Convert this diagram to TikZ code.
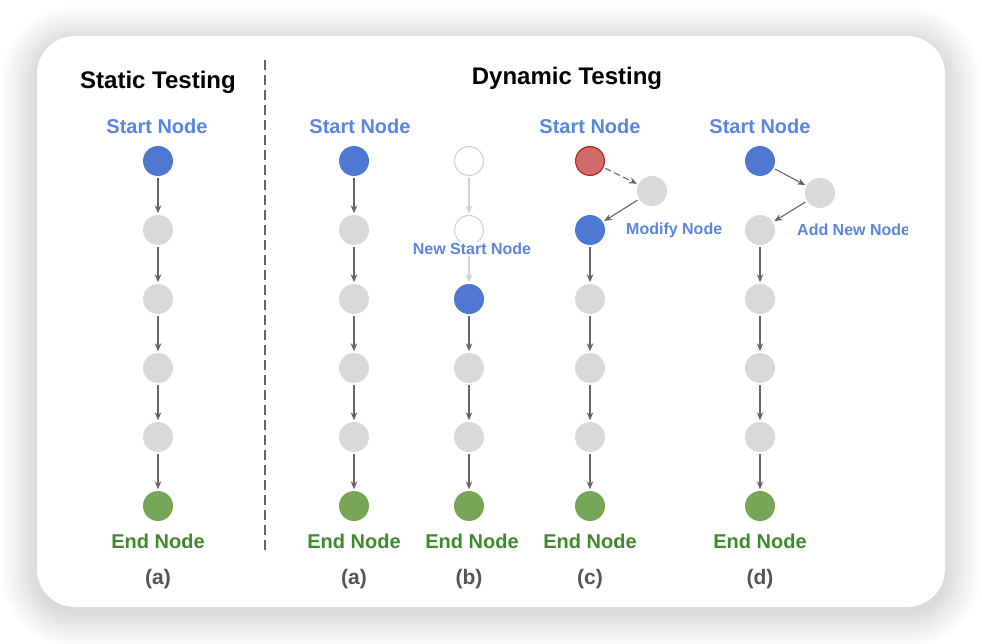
\documentclass[tikz,border=0pt]{standalone}
\usepackage{fontspec}
\setmainfont{Liberation Sans}
\usetikzlibrary{arrows.meta}
\definecolor{nblue}{HTML}{4F78D2}
\definecolor{ngray}{HTML}{D9D9D9}
\definecolor{ngreen}{HTML}{77A756}
\definecolor{nred}{HTML}{CF6B69}
\definecolor{nredline}{HTML}{B8281E}
\definecolor{tblue}{HTML}{5B86DF}
\definecolor{tgreen}{HTML}{3F8A2F}
\definecolor{tgray}{HTML}{555555}
\definecolor{agray}{HTML}{666666}
\definecolor{lgray}{HTML}{D2D2D2}
\begin{document}
\begin{tikzpicture}[x=1pt,y=-1pt,
  dot/.style={circle,minimum size=30pt,inner sep=0pt},
  graynode/.style={dot,fill=ngray},
  bluenode/.style={dot,fill=nblue},
  greennode/.style={dot,fill=ngreen},
  rednode/.style={dot,fill=nred,draw=nredline,line width=1.2pt,minimum size=28.8pt},
  ghostnode/.style={dot,draw=lgray,line width=1.1pt,fill=white,minimum size=28.9pt},
  arr/.style={draw=agray,line width=1.1pt,-{Stealth[length=8pt,width=6.5pt]},shorten <=2pt,shorten >=1.5pt},
  ghostarr/.style={arr,draw=lgray},
  title/.style={font=\bfseries\fontsize{24}{28}\selectfont,text=black},
  startlbl/.style={font=\bfseries\fontsize{20}{24}\selectfont,text=tblue},
  endlbl/.style={font=\bfseries\fontsize{20}{24}\selectfont,text=tgreen},
  sublbl/.style={font=\bfseries\fontsize{21}{24}\selectfont,text=tgray},
  smalllbl/.style={font=\bfseries\fontsize{16}{19}\selectfont,text=tblue,inner sep=1pt}]
\useasboundingbox (0,0) rectangle (982,644);
\fill[white] (0,0) rectangle (982,644);
% shadow
\foreach \i in {1,...,36}{
  \fill[black,opacity=0.0042,rounded corners=38pt+\i pt] (37-\i,42-\i) rectangle (945+\i,612+\i);
}
\fill[white,rounded corners=38pt] (37,36) rectangle (945,607);
% divider
\draw[agray,line width=1.2pt,dash pattern=on 10pt off 5pt] (265,60) -- (265,553);
% titles
\node[title] (tstat) at (158,82) {Static Testing};
\node[title] (tdyn) at (567,78) {Dynamic Testing};
% static column
\node[startlbl] (sst) at (157,126) {Start Node};
\node[bluenode] (s1) at (158,161) {};
\node[graynode] (s2) at (158,230) {};
\node[graynode] (s3) at (158,299) {};
\node[graynode] (s4) at (158,368) {};
\node[graynode] (s5) at (158,437) {};
\node[greennode] (s6) at (158,506) {};
\node[endlbl] (sen) at (158,541) {End Node};
\node[sublbl] (sla) at (158,579) {(a)};
\foreach \u/\v in {s1/s2,s2/s3,s3/s4,s4/s5,s5/s6}{\draw[arr] (\u) -- (\v);}
% column a
\node[startlbl] (ast) at (360,126) {Start Node};
\node[bluenode] (a1) at (354,161) {};
\node[graynode] (a2) at (354,230) {};
\node[graynode] (a3) at (354,299) {};
\node[graynode] (a4) at (354,368) {};
\node[graynode] (a5) at (354,437) {};
\node[greennode] (a6) at (354,506) {};
\node[endlbl] (aen) at (354,541) {End Node};
\node[sublbl] (ala) at (354,579) {(a)};
\foreach \u/\v in {a1/a2,a2/a3,a3/a4,a4/a5,a5/a6}{\draw[arr] (\u) -- (\v);}
% column b
\node[ghostnode] (b1) at (469,161) {};
\node[ghostnode] (b2) at (469,230) {};
\node[bluenode] (b3) at (469,299) {};
\node[graynode] (b4) at (469,368) {};
\node[graynode] (b5) at (469,437) {};
\node[greennode] (b6) at (469,506) {};
\draw[ghostarr] (b1) -- (b2);
\draw[ghostarr] (b2) -- (b3);
\node[smalllbl,fill=white] (bns) at (472,249) {New Start Node};
\node[endlbl] (ben) at (472,541) {End Node};
\node[sublbl] (blb) at (469,579) {(b)};
\foreach \u/\v in {b3/b4,b4/b5,b5/b6}{\draw[arr] (\u) -- (\v);}
% column c
\node[startlbl] (cst) at (590,126) {Start Node};
\node[rednode] (cr) at (590,161) {};
\node[graynode] (cm) at (652,191) {};
\node[bluenode] (c2) at (590,230) {};
\node[graynode] (c3) at (590,299) {};
\node[graynode] (c4) at (590,368) {};
\node[graynode] (c5) at (590,437) {};
\node[greennode] (c6) at (590,506) {};
\node[smalllbl,anchor=west] (cmod) at (625,230) {Modify Node};
\node[endlbl] (cen) at (590,541) {End Node};
\node[sublbl] (clc) at (590,579) {(c)};
\draw[arr,dash pattern=on 6pt off 4pt] (cr) -- (cm);
\draw[arr] (cm) -- (c2);
\foreach \u/\v in {c2/c3,c3/c4,c4/c5,c5/c6}{\draw[arr] (\u) -- (\v);}
% column d
\node[startlbl] (dst) at (760,126) {Start Node};
\node[bluenode] (d1) at (760,161) {};
\node[graynode] (dm) at (820,193) {};
\node[graynode] (d2) at (760,230) {};
\node[graynode] (d3) at (760,299) {};
\node[graynode] (d4) at (760,368) {};
\node[graynode] (d5) at (760,437) {};
\node[greennode] (d6) at (760,506) {};
\begin{scope}
\clip (780,205) rectangle (907,255);
\node[smalllbl,anchor=west] (dadd) at (796,230) {Add New Node};
\end{scope}
\node[endlbl] (den) at (760,541) {End Node};
\node[sublbl] (dld) at (760,579) {(d)};
\draw[arr] (d1) -- (dm);
\draw[arr] (dm) -- (d2);
\foreach \u/\v in {d2/d3,d3/d4,d4/d5,d5/d6}{\draw[arr] (\u) -- (\v);}
\end{tikzpicture}
\end{document}
